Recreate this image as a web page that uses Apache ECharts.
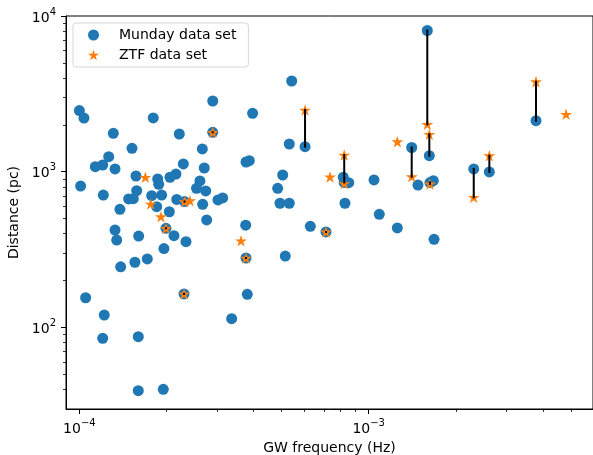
<!DOCTYPE html>
<html>
<head>
<meta charset="utf-8">
<script src="https://cdn.jsdelivr.net/npm/echarts@6/dist/echarts.min.js"></script>
<style>
  html, body { margin: 0; padding: 0; background: #fff; }
  #chart { width: 593px; height: 455px; }
</style>
</head>
<body>
<div id="chart"></div>
<script>
// Munday sources with no ZTF counterpart
const mundayFreq = [1.00e-4, 1.037e-4, 1.01e-4, 2.89e-4, 3.97e-4, 1.80e-4, 1.31e-4, 2.215e-4, 1.52e-4, 2.66e-4,
  1.263e-4, 1.135e-4, 1.204e-4, 1.328e-4, 2.287e-4, 2.702e-4, 3.766e-4, 3.866e-4, 1.569e-4, 1.865e-4,
  1.88e-4, 2.057e-4, 2.157e-4, 1.21e-4, 1.578e-4, 1.48e-4, 1.536e-4, 1.778e-4, 1.925e-4, 1.85e-4,
  2.046e-4, 2.17e-4, 2.61e-4, 2.54e-4, 2.733e-4, 3.013e-4, 3.128e-4, 2.668e-4, 1.381e-4, 2.754e-4,
  3.757e-4, 1.328e-4, 1.346e-4, 1.603e-4, 2.123e-4, 2.336e-4, 1.96e-4, 1.717e-4, 1.556e-4, 1.389e-4,
  3.805e-4, 1.051e-4, 1.219e-4, 3.36e-4, 1.204e-4, 1.598e-4, 1.598e-4, 1.95e-4, 5.418e-4, 5.315e-4,
  5.043e-4, 4.846e-4, 4.936e-4, 5.315e-4, 8.17e-4, 8.53e-4, 8.28e-4, 1.043e-3, 1.088e-3, 1.256e-3,
  1.682e-3, 6.284e-4, 5.148e-4, 1.48e-3, 1.672e-3];
const mundayDist = [2470, 2210, 809, 2845, 2372, 2213, 1765, 1746, 1413, 1399,
  1248, 1077, 1104, 1041, 1121, 1056, 1154, 1177, 938, 898,
  830, 921, 966, 708, 755, 668, 671, 701, 708, 596,
  553, 663, 872, 782, 752, 658, 678, 617, 573, 490,
  453, 422, 364, 386, 388, 355, 321, 275, 262, 245,
  163, 155, 120, 113.7, 85.1, 87.2, 39.2, 40.0, 3824, 1506,
  952, 782, 627, 627, 921, 850, 627, 885, 532, 435,
  368, 446, 287, 821, 876];

// ZTF sources with no Munday counterpart
const ztfFreq = [8.23e-4, 1.256e-3, 7.35e-4, 3.62e-4, 1.69e-4, 1.764e-4, 1.914e-4, 2.411e-4, 4.81e-3];
const ztfDist = [840, 1558, 925, 360, 921, 620, 514, 651, 2337];

// sources in both sets, joined by a black line
const matchFreq = [2.89e-4, 2.309e-4, 1.992e-4, 3.766e-4, 2.30e-4, 7.12e-4, 6.025e-4, 8.23e-4,
  1.408e-3, 1.594e-3, 1.62e-3, 1.628e-3, 2.307e-3, 2.612e-3, 3.787e-3];
const matchMunday = [1791, 643, 433, 279, 164, 410, 1447, 852, 1430, 8071, 1267, 852, 1041, 996, 2126];
const matchZtf = [1791, 643, 433, 279, 164, 410, 2490, 1280, 929, 2016, 1739, 834, 685, 1267, 3785];

const xMajorTicks = [1e-4, 1e-3];
const xMinorTicks = [2e-4, 3e-4, 4e-4, 5e-4, 6e-4, 7e-4, 8e-4, 9e-4, 2e-3, 3e-3, 4e-3, 5e-3];
const yMajorTicks = [1e2, 1e3, 1e4];
const yMinorTicks = [40, 50, 60, 70, 80, 90, 200, 300, 400, 500, 600, 700, 800, 900,
  2000, 3000, 4000, 5000, 6000, 7000, 8000, 9000];

const FONT = 'DejaVu Sans';

// matplotlib '*' marker
function starPath() {
  const pts = [];
  for (let i = 0; i < 10; i++) {
    const a = -Math.PI / 2 + i * Math.PI / 5;
    const r = i % 2 === 0 ? 1 : 0.381966;
    pts.push((r * Math.cos(a)).toFixed(4) + ' ' + (r * Math.sin(a)).toFixed(4));
  }
  return 'path://M' + pts.join(' L') + ' Z';
}
const STAR = starPath();

function powLabel(value) {
  const e = Math.round(Math.log10(value));
  return '{b|10}{s|' + (e < 0 ? '\u2212' + (-e) : e) + '}';
}
const powRich = {
  b: { fontSize: 14, fontFamily: FONT, color: '#000', verticalAlign: 'bottom', lineHeight: 18 },
  s: { fontSize: 10, fontFamily: FONT, color: '#000', verticalAlign: 'top', lineHeight: 10 },
};

const chart = echarts.init(document.getElementById('chart'), null, { renderer: 'canvas' });

chart.setOption({
  animation: false,
  backgroundColor: '#fff',
  textStyle: { fontFamily: FONT },
  grid: {
    left: 66, right: 0, top: 16, bottom: 46,
    show: true, borderColor: '#000', borderWidth: 1,
    containLabel: false, outerBoundsMode: 'none',
  },
  legend: {
    left: 73, top: 23,
    orient: 'vertical',
    padding: [5, 12, 5, 15],
    itemWidth: 11, itemHeight: 11, itemGap: 6,
    backgroundColor: 'rgba(255,255,255,0.8)',
    borderColor: 'rgba(204,204,204,0.8)', borderWidth: 1, borderRadius: 3,
    formatter: (name) => '{p| }{t|' + name + '}',
    textStyle: {
      fontSize: 14, fontFamily: FONT, color: '#000',
      rich: {
        p: { width: 15, fontSize: 14 },
        t: { fontSize: 14, fontFamily: FONT, color: '#000', lineHeight: 16 },
      },
    },
    data: [
      { name: 'Munday data set', icon: 'circle' },
      { name: 'ZTF data set', icon: STAR },
    ],
  },
  xAxis: [
    {
      type: 'log', logBase: 10, min: 8.99e-5, max: 5.96e-3,
      name: 'GW frequency (Hz)', nameLocation: 'middle', nameGap: 28,
      nameTextStyle: { fontSize: 14, fontFamily: FONT, color: '#000' },
      axisLine: { lineStyle: { color: '#000', width: 1 } },
      axisTick: { customValues: xMajorTicks, length: 5, lineStyle: { color: '#000', width: 1 } },
      axisLabel: { customValues: xMajorTicks, margin: 9, formatter: powLabel, rich: powRich },
      splitLine: { show: false },
    },
    {
      type: 'log', logBase: 10, min: 8.99e-5, max: 5.96e-3, position: 'bottom',
      axisLine: { show: false },
      axisTick: { customValues: xMinorTicks, length: 3, lineStyle: { color: '#000', width: 0.8 } },
      axisLabel: { show: false },
      splitLine: { show: false },
    },
  ],
  yAxis: [
    {
      type: 'log', logBase: 10, min: 29.9, max: 1e4,
      name: 'Distance (pc)', nameLocation: 'middle', nameGap: 39,
      nameTextStyle: { fontSize: 14, fontFamily: FONT, color: '#000' },
      axisLine: { lineStyle: { color: '#000', width: 1 } },
      axisTick: { customValues: yMajorTicks, length: 5, lineStyle: { color: '#000', width: 1 } },
      axisLabel: { customValues: yMajorTicks, margin: 10, formatter: powLabel, rich: powRich },
      splitLine: { show: false },
    },
    {
      type: 'log', logBase: 10, min: 29.9, max: 1e4, position: 'left',
      axisLine: { show: false },
      axisTick: { customValues: yMinorTicks, length: 3, lineStyle: { color: '#000', width: 0.8 } },
      axisLabel: { show: false },
      splitLine: { show: false },
    },
  ],
  series: [
    {
      name: 'Munday data set',
      type: 'scatter',
      symbol: 'circle',
      symbolSize: 11,
      itemStyle: { color: '#1f77b4', opacity: 1 },
      z: 2,
      data: mundayFreq.map((f, i) => [f, mundayDist[i]])
        .concat(matchFreq.map((f, i) => [f, matchMunday[i]])),
    },
    {
      name: 'ZTF data set',
      type: 'scatter',
      symbol: STAR,
      symbolKeepAspect: true,
      symbolSize: 12,
      itemStyle: { color: '#ff7f0e', opacity: 1 },
      z: 3,
      data: ztfFreq.map((f, i) => [f, ztfDist[i]])
        .concat(matchFreq.map((f, i) => [f, matchZtf[i]])),
    },
    {
      // vertical link between the two distances of a matched source
      type: 'custom',
      z: 4,
      encode: { x: 0, y: [1, 2] },
      renderItem(params, api) {
        const a = api.coord([api.value(0), api.value(1)]);
        const b = api.coord([api.value(0), api.value(2)]);
        const lw = 2;
        const top = Math.min(a[1], b[1]);
        return {
          type: 'rect',
          shape: { x: a[0] - lw / 2, y: top - lw / 2, width: lw, height: Math.abs(a[1] - b[1]) + lw },
          style: { fill: '#000' },
        };
      },
      data: matchFreq.map((f, i) => [f, matchMunday[i], matchZtf[i]]),
    },
  ],
});
</script>
</body>
</html>
